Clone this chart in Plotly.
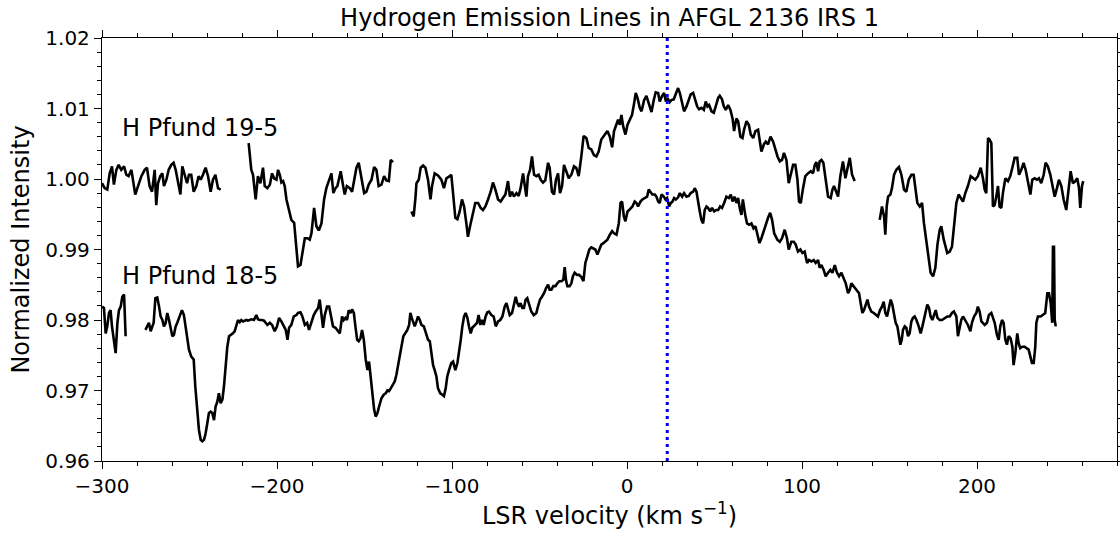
import plotly.graph_objects as go

# ---------------- H Pfund 19-5 (upper spectrum), four segments ----------------
pf19_a_v = [-300.0, -298.5, -297.0, -295.6, -294.3, -293.2, -291.8, -290.5, -289.0, -287.4,
            -286.1, -284.8, -283.2, -281.7, -281.0, -279.4, -277.5, -275.6, -274.3, -272.8,
            -271.4, -269.9, -269.0, -268.0, -266.7, -265.5, -264.6, -263.2, -261.9, -260.4,
            -259.1, -257.9, -256.6, -255.2, -254.1, -252.8, -251.4, -250.3, -249.0, -247.6,
            -246.1, -244.8, -243.6, -242.3, -240.8, -239.4, -237.9, -236.6, -235.2, -233.7,
            -232.2]
pf19_a_i = [0.9994, 0.9987, 0.9985, 1.0008, 1.0018, 0.9992, 1.0013, 1.0020, 1.0013, 1.0018,
            1.0006, 1.0004, 1.0013, 0.9990, 0.9978, 0.9990, 1.0004, 1.0013, 1.0016, 0.9990,
            0.9982, 1.0013, 0.9963, 0.9994, 1.0004, 1.0008, 0.9990, 0.9999, 1.0013, 1.0020,
            1.0023, 1.0013, 0.9994, 0.9978, 1.0018, 1.0008, 0.9994, 1.0006, 1.0006, 0.9982,
            0.9990, 1.0004, 0.9999, 1.0006, 1.0016, 1.0004, 0.9982, 0.9999, 1.0006, 0.9987,
            0.9985]

pf19_b_v = [-216.2, -214.7, -213.7, -212.2, -210.9, -209.5, -208.0, -207.0, -205.5, -204.1,
            -202.8, -201.7, -200.3, -199.4, -198.4, -197.5, -196.5, -195.6, -194.6, -193.3,
            -191.8, -190.2, -188.9, -188.0, -186.6, -185.5, -184.1, -182.6, -181.3, -180.3,
            -178.8, -177.5, -176.1, -174.6, -173.1, -171.8, -170.4, -168.9, -167.8, -166.6,
            -165.5, -163.6, -162.2, -161.3, -160.1, -158.4, -157.1, -155.9, -154.6, -153.3,
            -152.1, -150.2, -148.9, -147.6, -146.0, -144.5, -143.2, -141.9, -140.3, -138.8,
            -137.5, -136.1, -135.0, -133.7]
pf19_b_i = [1.0051, 1.0013, 1.0006, 0.9971, 1.0004, 0.9994, 1.0016, 0.9990, 0.9987, 0.9992,
            1.0008, 1.0001, 0.9999, 1.0013, 1.0006, 0.9995, 0.9997, 0.9990, 0.9971, 0.9959,
            0.9942, 0.9938, 0.9904, 0.9876, 0.9878, 0.9895, 0.9916, 0.9916, 0.9914, 0.9923,
            0.9959, 0.9933, 0.9927, 0.9937, 0.9971, 0.9987, 0.9997, 1.0008, 0.9980, 0.9987,
            0.9990, 1.0011, 0.9990, 0.9978, 0.9990, 0.9987, 0.9982, 1.0001, 1.0016, 1.0023,
            1.0008, 0.9980, 0.9982, 0.9992, 0.9999, 1.0017, 1.0013, 0.9990, 0.9992, 1.0004,
            0.9998, 0.9997, 1.0027, 1.0024]

pf19_c_v = [-123.2, -121.9, -120.9, -120.3, -119.0, -117.9, -116.5, -115.2, -113.7, -112.3,
            -111.4, -109.9, -108.0, -106.1, -104.6, -103.2, -101.3, -100.4, -99.4, -98.1,
            -96.9, -95.6, -94.3, -93.1, -91.8, -90.9, -89.5, -88.0, -86.7, -85.1,
            -83.6, -82.3, -80.9, -79.4, -77.9, -76.6, -75.2, -73.7, -72.2, -70.9,
            -69.5, -68.0, -66.9, -65.7, -64.6, -63.2, -61.9, -60.8, -59.4, -58.5,
            -57.5, -56.6, -55.4, -54.3, -53.1, -51.8, -50.5, -49.3, -48.0, -46.7,
            -45.1, -44.2, -42.9, -41.7, -40.6, -39.4, -38.3, -37.1, -36.0, -34.7,
            -33.3, -31.8, -30.3, -29.0, -27.6, -26.1, -24.8, -23.2, -21.9, -20.4,
            -18.9, -17.5, -16.2, -14.7, -11.2, -9.8, -8.5, -7.4, -6.0, -5.1,
            -4.1, -3.2, -2.2, -0.9, 0.3, 1.6, 2.9, 4.1, 5.0, 6.0,
            7.3, 8.3, 9.8, 11.1, 12.4, 14.0, 15.3, 16.4, 17.8, 18.7,
            20.1, 21.2, 22.2, 23.1, 24.4, 25.4, 26.7, 27.9, 29.2, 30.2,
            31.5, 32.6, 34.0, 35.3, 36.4, 37.8, 38.7, 40.1, 41.2, 42.5,
            43.9, 45.0, 46.0, 46.9, 48.3, 49.6, 50.7, 52.1, 53.0, 54.3,
            55.3, 56.4, 57.8, 59.1, 60.3, 61.2, 62.5, 63.5, 64.8, 66.0,
            66.9, 68.3, 69.6, 70.7, 72.1, 73.4, 74.9, 75.9, 76.8, 78.2,
            79.3, 80.6, 82.0, 83.5, 84.8, 86.0, 87.3, 88.6, 89.7, 91.1,
            92.4, 93.5, 94.9, 96.2, 97.4, 98.3, 99.3, 100.6, 101.9, 103.4,
            105.0, 106.3, 107.3, 108.2, 109.2, 110.1, 111.1, 112.2, 113.4, 114.9,
            116.4, 117.4, 118.3, 119.6, 120.6, 121.9, 123.4, 124.8, 125.9, 127.3,
            128.6, 130.1]
pf19_c_i = [0.9954, 0.9947, 0.9973, 0.9994, 0.9999, 1.0016, 1.0019, 1.0016, 0.9999, 0.9971,
            0.9990, 1.0008, 1.0005, 0.9999, 0.9987, 1.0001, 1.0004, 1.0006, 0.9980, 0.9945,
            0.9943, 0.9954, 0.9971, 0.9961, 0.9937, 0.9918, 0.9935, 0.9952, 0.9966, 0.9966,
            0.9959, 0.9956, 0.9961, 0.9971, 0.9982, 0.9995, 0.9985, 0.9971, 0.9968, 0.9973,
            0.9978, 0.9997, 0.9975, 0.9982, 0.9975, 0.9980, 0.9976, 0.9987, 1.0008, 0.9992,
            0.9975, 1.0004, 1.0013, 1.0032, 1.0006, 1.0004, 1.0006, 0.9999, 0.9995, 0.9998,
            1.0023, 1.0016, 0.9982, 0.9978, 0.9999, 1.0008, 0.9980, 0.9990, 1.0020, 1.0011,
            1.0001, 1.0006, 1.0018, 1.0016, 1.0004, 1.0032, 1.0061, 1.0058, 1.0044, 1.0042,
            1.0034, 1.0032, 1.0039, 1.0056, 1.0068, 1.0060, 1.0045, 1.0068, 1.0079, 1.0084,
            1.0077, 1.0091, 1.0075, 1.0063, 1.0077, 1.0084, 1.0091, 1.0108, 1.0122, 1.0115,
            1.0101, 1.0096, 1.0112, 1.0118, 1.0108, 1.0095, 1.0112, 1.0123, 1.0122, 1.0110,
            1.0118, 1.0122, 1.0110, 1.0115, 1.0109, 1.0112, 1.0113, 1.0122, 1.0129, 1.0122,
            1.0105, 1.0096, 1.0103, 1.0112, 1.0120, 1.0122, 1.0115, 1.0103, 1.0099, 1.0101,
            1.0098, 1.0110, 1.0103, 1.0105, 1.0096, 1.0094, 1.0103, 1.0115, 1.0118, 1.0113,
            1.0103, 1.0098, 1.0105, 1.0098, 1.0086, 1.0068, 1.0086, 1.0082, 1.0060, 1.0058,
            1.0070, 1.0082, 1.0077, 1.0063, 1.0058, 1.0068, 1.0070, 1.0053, 1.0039, 1.0049,
            1.0053, 1.0049, 1.0060, 1.0053, 1.0042, 1.0032, 1.0025, 1.0027, 1.0037, 1.0027,
            0.9994, 1.0004, 1.0020, 1.0020, 0.9999, 0.9968, 0.9966, 0.9987, 1.0004, 1.0008,
            1.0011, 1.0008, 1.0020, 1.0024, 1.0011, 1.0025, 1.0027, 1.0023, 1.0004, 0.9975,
            0.9973, 0.9985, 0.9990, 0.9982, 0.9975, 1.0004, 1.0025, 1.0001, 1.0013, 1.0030,
            1.0006, 0.9997]

pf19_d_v = [144.4, 145.7, 146.9, 147.6, 148.4, 149.2, 150.5, 151.4, 152.6, 153.9,
            155.4, 156.8, 158.3, 159.6, 161.0, 162.5, 163.8, 164.8, 165.9, 167.3,
            168.6, 169.7, 171.1, 172.4, 173.5, 174.9, 176.2, 177.4, 178.7, 179.6,
            181.0, 183.0, 184.4, 185.7, 186.8, 188.2, 189.5, 191.0, 192.0, 193.3,
            194.8, 196.4, 197.7, 199.0, 200.5, 202.1, 203.4, 204.4, 205.3, 206.3,
            207.2, 208.2, 209.1, 210.1, 211.0, 212.0, 212.9, 213.9, 214.8, 216.2,
            217.7, 219.0, 220.2, 221.5, 223.0, 224.0, 225.3, 226.6, 227.8, 229.1,
            230.5, 231.6, 232.9, 234.3, 235.4, 236.7, 238.1, 239.2, 240.5, 241.9,
            243.4, 244.4, 245.7, 246.8, 248.2, 249.5, 251.0, 252.4, 253.5, 254.8,
            256.2, 257.3, 258.3, 259.0, 260.0, 260.7]
pf19_d_i = [0.9942, 0.9961, 0.9947, 0.9921, 0.9961, 0.9975, 0.9978, 0.9987, 1.0006, 1.0013,
            1.0017, 1.0006, 0.9985, 0.9982, 0.9999, 1.0006, 1.0006, 0.9987, 0.9966, 0.9961,
            0.9966, 0.9937, 0.9911, 0.9885, 0.9867, 0.9862, 0.9874, 0.9907, 0.9928, 0.9933,
            0.9914, 0.9895, 0.9897, 0.9904, 0.9933, 0.9966, 0.9978, 0.9971, 0.9968, 0.9980,
            0.9990, 1.0004, 1.0001, 0.9999, 1.0004, 1.0016, 1.0001, 0.9985, 0.9980, 1.0058,
            1.0056, 1.0051, 0.9961, 0.9963, 0.9975, 0.9990, 0.9961, 0.9959, 0.9980, 1.0001,
            0.9997, 1.0004, 1.0016, 1.0030, 1.0030, 1.0006, 1.0013, 1.0023, 1.0013, 0.9994,
            0.9978, 0.9999, 1.0001, 0.9999, 1.0001, 0.9994, 1.0006, 1.0023, 1.0018, 1.0006,
            0.9990, 0.9975, 0.9987, 0.9999, 0.9990, 0.9971, 0.9956, 0.9990, 1.0011, 0.9994,
            0.9997, 1.0001, 0.9987, 0.9959, 0.9990, 0.9997]

# ---------------- H Pfund 18-5 (lower spectrum), two segments ----------------
pf18_a_v = [-300.0, -298.9, -297.9, -297.0, -296.0, -295.1, -294.3, -293.2, -292.2, -291.2,
            -290.3, -289.3, -288.4, -287.4, -286.5]
pf18_a_i = [0.9819, 0.9817, 0.9781, 0.9791, 0.9810, 0.9814, 0.9791, 0.9772, 0.9753, 0.9796,
            0.9814, 0.9819, 0.9833, 0.9836, 0.9777]

pf18_b_v = [-275.2, -274.1, -273.2, -272.2, -271.4, -270.5, -269.5, -268.4, -267.4, -266.5,
            -265.5, -264.6, -263.6, -262.7, -261.7, -260.8, -259.8, -258.9, -257.9, -257.0,
            -255.6, -254.3, -253.2, -252.2, -251.2, -250.3, -249.0, -247.6, -246.7, -245.5,
            -244.6, -243.6, -242.7, -241.7, -240.8, -239.8, -238.9, -237.9, -237.0, -236.0,
            -235.1, -234.1, -233.2, -232.2, -231.2, -230.3, -229.3, -228.4, -227.4, -226.1,
            -225.2, -224.2, -223.2, -222.3, -221.3, -220.4, -219.4, -218.5, -217.5, -216.6,
            -215.6, -214.7, -213.2, -211.8, -210.9, -209.9, -208.6, -207.4,
            -205.5, -204.1, -202.8, -201.3, -200.0, -198.8, -197.5, -196.1, -195.0, -194.0,
            -193.1, -191.8, -190.4, -188.9, -188.0, -186.6, -185.5, -184.1, -182.8, -181.7,
            -180.3, -179.0, -177.9, -176.5, -175.6, -174.6, -173.7, -172.7, -171.4, -170.2,
            -169.3, -168.0, -166.6, -165.5, -164.1, -162.8, -161.9, -160.9, -160.0, -159.0,
            -158.0, -157.1, -156.1, -155.2, -154.2, -153.3, -152.3, -151.4, -150.4, -149.3,
            -148.3, -147.4, -146.4, -145.5, -144.5, -143.6, -142.6, -141.7, -140.3, -139.0,
            -137.9, -136.9, -136.0, -135.0, -134.0, -132.7, -131.8, -130.8, -129.9, -128.9,
            -127.8, -126.6, -125.5, -124.5, -123.8, -123.0, -122.2, -121.3, -120.3, -119.4,
            -118.4, -117.5, -116.1, -115.0, -113.7, -112.7, -111.8, -110.8,
            -109.9, -108.9, -108.0, -106.7, -105.5, -104.6, -103.6, -102.7, -101.7, -100.4,
            -99.4, -98.1, -96.9, -96.0, -95.0, -94.1, -93.1, -92.2, -91.2, -90.3,
            -89.3, -88.4, -87.0, -85.7, -84.8, -83.8, -82.9, -81.9, -80.8, -79.8,
            -78.9, -77.5, -76.2, -75.0, -73.7, -72.4, -71.2, -69.9, -68.9, -68.0,
            -67.0, -65.7, -64.6, -63.6, -62.7, -61.7, -60.8, -59.8, -58.9, -57.9,
            -57.0, -56.0, -54.7, -53.3, -51.8, -50.9, -49.7, -48.6, -47.4, -46.3,
            -45.1, -44.2, -43.2, -42.1, -40.9, -39.8, -38.7, -37.5, -36.4, -35.6,
            -34.9, -34.1, -32.8, -31.8, -30.9, -29.9, -28.6, -27.4, -26.1, -24.9,
            -23.8, -22.7, -21.5, -20.4, -19.2, -18.1, -16.9, -15.6, -14.7, -13.5,
            -11.2, -9.8, -8.5, -7.4, -6.0, -4.7, -3.7, -2.8, -1.8, -0.9,
            0.3, 1.2, 2.2, 3.1, 4.4, 5.4, 6.3, 7.7, 8.8, 10.2,
            11.5, 12.4, 13.4, 14.5, 15.9, 16.8, 17.8, 18.7, 19.7, 21.0,
            22.0, 22.9, 24.1, 25.0, 26.0, 26.9, 27.9, 29.2, 30.2, 31.5,
            32.6, 34.0, 35.3, 36.4, 37.8, 38.7, 39.7, 40.6, 41.6, 42.5,
            43.5, 44.4, 45.4, 46.3, 47.5, 48.6, 49.8, 50.9, 52.1, 53.2,
            54.3, 55.5, 56.8, 58.2, 59.3, 60.3, 61.4, 62.5, 63.5, 64.4,
            65.4, 66.2, 66.9, 67.7, 68.6, 69.8, 71.1, 72.3, 73.4, 74.5,
            75.7, 76.8, 78.2, 79.5, 80.6, 81.8, 82.9, 84.1,
            85.9, 87.3, 88.6, 90.1, 91.4, 92.4, 93.9, 95.3, 96.4, 97.7,
            99.1, 100.2, 101.5, 102.9, 104.0, 105.4, 106.7, 107.8, 109.2, 110.1,
            111.1, 112.4, 113.5, 114.9, 116.2, 117.4, 118.7, 120.0, 121.2, 122.5,
            123.8, 125.0, 126.3, 127.3, 128.2, 129.5, 130.7, 131.6, 132.6, 133.5,
            134.5, 135.4, 136.4, 137.4, 138.3, 139.6, 141.0, 142.1, 143.4, 144.6,
            145.7, 146.7, 147.6, 148.6, 149.7, 150.7, 151.6, 152.6, 153.5, 154.5,
            155.4, 156.2, 157.0, 157.7, 158.7, 159.6, 160.6, 161.5, 162.5, 163.4,
            164.4, 165.4, 166.7, 167.8, 168.8, 169.7, 170.7, 171.6, 172.6, 173.5,
            174.5, 175.4, 176.4, 177.4, 178.7, 180.0, 181.5,
            183.0, 184.4, 185.7, 186.8, 188.2, 189.1, 190.1, 191.0, 192.0, 193.3,
            194.8, 196.2, 197.1, 198.3, 199.6, 200.5, 201.5, 202.5, 203.4, 204.4,
            205.7, 206.8, 208.2, 209.1, 210.1, 211.4, 212.4, 213.3, 214.3, 215.2,
            216.2, 217.1, 218.1, 219.2, 220.2, 220.9, 221.9, 223.0, 223.8, 224.7,
            225.9, 227.2, 228.5, 229.5, 230.5, 231.4, 232.4, 233.3, 233.9, 234.8,
            236.4, 237.7, 239.0, 240.2, 241.1, 242.1, 242.5, 243.0, 243.4, 244.0,
            244.4, 245.0]
pf18_b_i = [0.9786, 0.9793, 0.9796, 0.9784, 0.9789, 0.9796, 0.9831, 0.9832, 0.9819, 0.9805,
            0.9800, 0.9791, 0.9796, 0.9810, 0.9800, 0.9791, 0.9777, 0.9779, 0.9791, 0.9796,
            0.9805, 0.9814, 0.9807, 0.9791, 0.9777, 0.9758, 0.9748, 0.9744, 0.9706, 0.9673,
            0.9644, 0.9630, 0.9628, 0.9630, 0.9639, 0.9654, 0.9668, 0.9670, 0.9668, 0.9658,
            0.9677, 0.9684, 0.9696, 0.9682, 0.9687, 0.9706, 0.9744, 0.9762, 0.9777, 0.9779,
            0.9781, 0.9784, 0.9791, 0.9800, 0.9797, 0.9800, 0.9798, 0.9799, 0.9800, 0.9799,
            0.9800, 0.9801, 0.9800, 0.9807, 0.9801, 0.9800, 0.9800, 0.9799,
            0.9793, 0.9796, 0.9793, 0.9784, 0.9791, 0.9803, 0.9798, 0.9791, 0.9786, 0.9772,
            0.9789, 0.9793, 0.9805, 0.9807, 0.9810, 0.9811, 0.9805, 0.9793, 0.9796, 0.9786,
            0.9798, 0.9807, 0.9812, 0.9817, 0.9829, 0.9810, 0.9789, 0.9807, 0.9819, 0.9819,
            0.9805, 0.9791, 0.9789, 0.9786, 0.9781, 0.9805, 0.9800, 0.9803, 0.9800, 0.9814,
            0.9810, 0.9815, 0.9810, 0.9791, 0.9772, 0.9770, 0.9774, 0.9786, 0.9772, 0.9744,
            0.9729, 0.9741, 0.9715, 0.9692, 0.9673, 0.9663, 0.9668, 0.9677, 0.9689, 0.9694,
            0.9696, 0.9700, 0.9699, 0.9703, 0.9708, 0.9713, 0.9722, 0.9734, 0.9748, 0.9762,
            0.9777, 0.9781, 0.9786, 0.9793, 0.9810, 0.9803, 0.9796, 0.9791, 0.9798, 0.9805,
            0.9800, 0.9793, 0.9791, 0.9781, 0.9772, 0.9770, 0.9753, 0.9736,
            0.9729, 0.9720, 0.9703, 0.9696, 0.9694, 0.9692, 0.9703, 0.9720, 0.9729, 0.9739,
            0.9741, 0.9729, 0.9739, 0.9753, 0.9772, 0.9791, 0.9805, 0.9810, 0.9803, 0.9791,
            0.9781, 0.9789, 0.9793, 0.9796, 0.9807, 0.9793, 0.9800, 0.9793, 0.9805, 0.9811,
            0.9812, 0.9807, 0.9805, 0.9791, 0.9798, 0.9800, 0.9805, 0.9819, 0.9824, 0.9814,
            0.9807, 0.9810, 0.9822, 0.9833, 0.9824, 0.9819, 0.9824, 0.9817, 0.9817, 0.9829,
            0.9831, 0.9822, 0.9812, 0.9807, 0.9810, 0.9819, 0.9829, 0.9833, 0.9838, 0.9845,
            0.9850, 0.9843, 0.9843, 0.9848, 0.9848, 0.9852, 0.9855, 0.9855, 0.9857, 0.9875,
            0.9857, 0.9848, 0.9848, 0.9852, 0.9862, 0.9867, 0.9864, 0.9864, 0.9861, 0.9855,
            0.9881, 0.9890, 0.9900, 0.9903, 0.9901, 0.9900, 0.9893, 0.9900, 0.9907, 0.9909,
            0.9914, 0.9921, 0.9926, 0.9923, 0.9921, 0.9937, 0.9966, 0.9968, 0.9947, 0.9940,
            0.9954, 0.9956, 0.9959, 0.9961, 0.9968, 0.9966, 0.9961, 0.9968, 0.9971, 0.9973,
            0.9975, 0.9985, 0.9982, 0.9978, 0.9978, 0.9975, 0.9968, 0.9966, 0.9978, 0.9975,
            0.9971, 0.9973, 0.9961, 0.9966, 0.9968, 0.9973, 0.9971, 0.9974, 0.9980, 0.9975,
            0.9980, 0.9975, 0.9976, 0.9980, 0.9982, 0.9987, 0.9982, 0.9971, 0.9954, 0.9942,
            0.9937, 0.9956, 0.9961, 0.9959, 0.9954, 0.9959, 0.9954, 0.9956, 0.9956, 0.9961,
            0.9959, 0.9966, 0.9975, 0.9973, 0.9978, 0.9968, 0.9975, 0.9966, 0.9973, 0.9959,
            0.9949, 0.9971, 0.9956, 0.9947, 0.9937, 0.9935, 0.9937, 0.9930, 0.9933, 0.9923,
            0.9909, 0.9916, 0.9928, 0.9937, 0.9945, 0.9952, 0.9942, 0.9923,
            0.9914, 0.9911, 0.9916, 0.9928, 0.9916, 0.9900, 0.9911, 0.9911, 0.9907, 0.9897,
            0.9900, 0.9895, 0.9897, 0.9881, 0.9885, 0.9883, 0.9885, 0.9881, 0.9885, 0.9874,
            0.9878, 0.9871, 0.9862, 0.9867, 0.9871, 0.9867, 0.9878, 0.9867, 0.9862, 0.9867,
            0.9859, 0.9852, 0.9838, 0.9843, 0.9852, 0.9848, 0.9843, 0.9840, 0.9838, 0.9824,
            0.9810, 0.9814, 0.9822, 0.9829, 0.9819, 0.9812, 0.9810, 0.9807, 0.9805, 0.9814,
            0.9819, 0.9826, 0.9810, 0.9805, 0.9819, 0.9829, 0.9822, 0.9810, 0.9796, 0.9791,
            0.9777, 0.9765, 0.9772, 0.9786, 0.9791, 0.9789, 0.9777, 0.9781, 0.9798, 0.9803,
            0.9805, 0.9800, 0.9791, 0.9781, 0.9791, 0.9800, 0.9810, 0.9822, 0.9817, 0.9805,
            0.9800, 0.9807, 0.9814, 0.9803, 0.9800, 0.9800, 0.9803,
            0.9805, 0.9805, 0.9810, 0.9812, 0.9805, 0.9777, 0.9789, 0.9800, 0.9805, 0.9800,
            0.9793, 0.9784, 0.9796, 0.9805, 0.9810, 0.9819, 0.9812, 0.9798, 0.9796, 0.9793,
            0.9796, 0.9807, 0.9810, 0.9803, 0.9796, 0.9779, 0.9772, 0.9791, 0.9800, 0.9796,
            0.9772, 0.9765, 0.9777, 0.9774, 0.9762, 0.9736, 0.9753, 0.9781, 0.9767, 0.9760,
            0.9762, 0.9762, 0.9760, 0.9758, 0.9748, 0.9739, 0.9739, 0.9762, 0.9796, 0.9805,
            0.9805, 0.9807, 0.9810, 0.9838, 0.9838, 0.9824, 0.9803, 0.9796, 0.9904, 0.9904,
            0.9800, 0.9791]

v_sys = 23.0  # systemic LSR velocity marker

x_ticks = [-300, -200, -100, 0, 100, 200]
y_ticks = [0.96, 0.97, 0.98, 0.99, 1.00, 1.01, 1.02]
labels = ["H Pfund 19-5", "H Pfund 18-5"]
label_pos_v = [-289.5, -289.5]
label_pos_i = [1.0073, 0.9862]


def join(*segs):
    xs, ys = [], []
    for k, (sv, si) in enumerate(segs):
        assert len(sv) == len(si), (len(sv), len(si))
        if k:
            xs.append(None)
            ys.append(None)
        xs += sv
        ys += si
    return xs, ys


x19, y19 = join((pf19_a_v, pf19_a_i), (pf19_b_v, pf19_b_i), (pf19_c_v, pf19_c_i), (pf19_d_v, pf19_d_i))
x18, y18 = join((pf18_a_v, pf18_a_i), (pf18_b_v, pf18_b_i))

fig = go.Figure()
fig.add_trace(go.Scatter(x=x19, y=y19, mode="lines", connectgaps=False,
                         line=dict(color="black", width=2.6), name="H Pfund 19-5"))
fig.add_trace(go.Scatter(x=x18, y=y18, mode="lines", connectgaps=False,
                         line=dict(color="black", width=2.6), name="H Pfund 18-5"))
fig.add_trace(go.Scatter(x=[v_sys, v_sys], y=[y_ticks[0], y_ticks[-1]], mode="lines",
                         line=dict(color="#0000ff", width=3, dash="3px,4px"), name="v_sys"))

for txt, xv, yv in zip(labels, label_pos_v, label_pos_i):
    fig.add_annotation(x=xv, y=yv, text=txt, showarrow=False, xanchor="left", yanchor="middle",
                       font=dict(size=24, color="black"))

axis_common = dict(showgrid=False, zeroline=False, showline=True, linecolor="black", linewidth=1.3,
                   ticks="outside", ticklen=7, tickwidth=1.3, tickcolor="black", mirror="ticks",
                   automargin=False, tickfont=dict(size=20, color="black"))

fig.update_xaxes(range=[-300, 280], tickvals=x_ticks, **axis_common,
                 minor=dict(dtick=20, tick0=0, ticks="outside", ticklen=4, tickwidth=1, tickcolor="black",
                            showgrid=False),
                 title=dict(text="LSR velocity (km s<sup>−1</sup>)", font=dict(size=24, color="black"), standoff=6))
fig.update_yaxes(range=[0.96, 1.02], tickvals=y_ticks, tickformat=".2f", **axis_common,
                 minor=dict(dtick=0.002, tick0=0.96, ticks="outside", ticklen=4, tickwidth=1, tickcolor="black",
                            showgrid=False),
                 title=dict(text="Normalized Intensity", font=dict(size=24, color="black"), standoff=8))

fig.update_layout(
    width=1120, height=538,
    margin=dict(l=102, r=3, t=38, b=77),
    plot_bgcolor="white", paper_bgcolor="white",
    showlegend=False,
    font=dict(family="DejaVu Sans", color="black"),
    title=dict(text="Hydrogen Emission Lines in AFGL 2136 IRS 1", x=0.5, xref="paper", xanchor="center",
               y=1 - 18 / 538, yref="container", yanchor="middle", font=dict(size=24, color="black")),
)

# remove the browser's default 8px page margin so the figure sits at the window's top-left corner
fig.write_html("out.html", config={"displayModeBar": False},
               post_script="document.body.style.margin='0';document.body.style.overflow='hidden';")
